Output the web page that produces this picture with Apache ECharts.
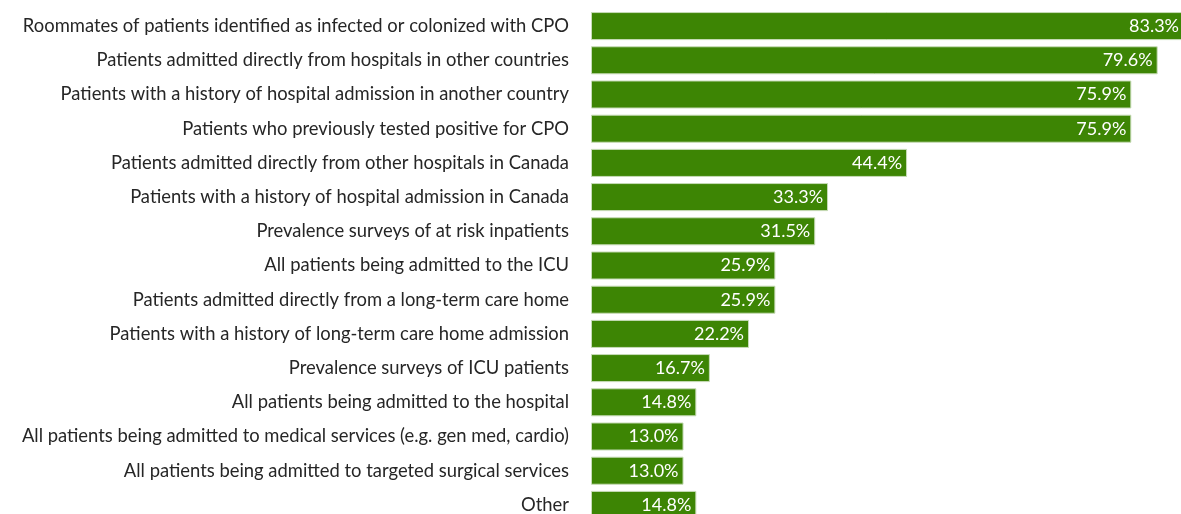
<!DOCTYPE html>
<html><head><meta charset="utf-8">
<script src="https://cdn.jsdelivr.net/npm/echarts@6/dist/echarts.min.js"></script>
<style>html,body{margin:0;padding:0;background:#fff}#c{width:1181px;height:514px}</style>
</head><body><div id="c"></div>
<script>
const categories = [
  "Roommates of patients identified as infected or colonized with CPO",
  "Patients admitted directly from hospitals in other countries",
  "Patients with a history of hospital admission in another country",
  "Patients who previously tested positive for CPO",
  "Patients admitted directly from other hospitals in Canada",
  "Patients with a history of hospital admission in Canada",
  "Prevalence surveys of at risk inpatients",
  "All patients being admitted to the ICU",
  "Patients admitted directly from a long-term care home",
  "Patients with a history of long-term care home admission",
  "Prevalence surveys of ICU patients",
  "All patients being admitted to the hospital",
  "All patients being admitted to medical services (e.g. gen med, cardio)",
  "All patients being admitted to targeted surgical services",
  "Other"
];
const values = [83.3, 79.6, 75.9, 75.9, 44.4, 33.3, 31.5, 25.9, 25.9, 22.2, 16.7, 14.8, 13.0, 13.0, 14.8];

const chart = echarts.init(document.getElementById('c'));
chart.setOption({
  animation: false,
  grid: { left: 591, top: 9, right: -3, bottom: -8, containLabel: false, outerBoundsMode: 'none' },
  xAxis: { type: 'value', min: 0, max: 83.3, show: false },
  yAxis: {
    type: 'category', data: categories, inverse: true,
    axisLine: { show: false }, axisTick: { show: false },
    axisLabel: { color: '#262626', fontFamily: 'Lato', fontSize: 18.4, margin: 22 }
  },
  series: [{
    type: 'bar', data: values, barCategoryGap: '18%', clip: false,
    itemStyle: { color: '#3d8504', borderColor: '#c8dcb8', borderWidth: 1 },
    label: {
      show: true, position: 'insideRight', distance: 5, color: '#ffffff',
      fontFamily: 'Lato', fontSize: 18,
      formatter: p => p.value.toFixed(1) + '%'
    }
  }]
});
</script></body></html>
